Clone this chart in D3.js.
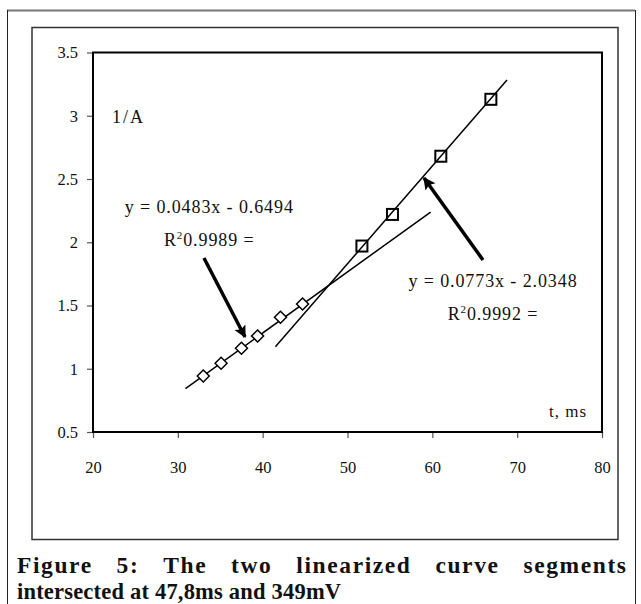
<!DOCTYPE html>
<html>
<head>
<meta charset="utf-8">
<script src="https://cdn.jsdelivr.net/npm/d3@7"></script>
<style>
  html, body { margin: 0; padding: 0; background: #fff; }
  svg { display: block; }
  text { font-family: "Liberation Serif", "DejaVu Serif", serif; fill: #111; }
</style>
</head>
<body>
<div id="chart"></div>
<script>
// measured points, first (slow) segment
const seg1T = [33.0, 35.1, 37.5, 39.4, 42.1, 44.7];
const seg1InvA = [0.943, 1.043, 1.162, 1.259, 1.407, 1.512];
// second (fast) segment
const seg2T = [51.7, 55.3, 61.0, 66.9];
const seg2InvA = [1.97, 2.22, 2.68, 3.13];

// fitted lines as printed on the chart, with their drawn extent in t
const fit1 = { slope: 0.0483, icpt: -0.6494, from: 30.9, to: 59.8 };
const fit2 = { slope: 0.0773, icpt: -2.0348, from: 41.5, to: 68.8 };

const xTicks = [20, 30, 40, 50, 60, 70, 80];
const yTicks = [0.5, 1, 1.5, 2, 2.5, 3, 3.5];

const eqLabels = [
  { eq: 'y = 0.0483x - 0.6494', r2: '0.9989 =', x: 33.7, yEq: 2.231, yR: 1.97 },
  { eq: 'y = 0.0773x - 2.0348', r2: '0.9992 =', x: 67.15, yEq: 1.646, yR: 1.385 },
];
const arrows = [
  { x1: 33.08, y1: 1.875, x2: 37.92, y2: 1.251 },
  { x1: 65.97, y1: 1.86, x2: 59.02, y2: 2.508 },
];

const captionLines = [
  'Figure 5: The two linearized curve segments',
  'intersected at 47,8ms and 349mV',
];

const width = 641, height = 604;
const plot = { left: 93, right: 602, top: 52.5, bottom: 432 };

const svg = d3.select('#chart').append('svg').attr('width', width).attr('height', height);

// outer and inner frames
svg.append('line').attr('x1', 7).attr('x2', 635).attr('y1', 10.5).attr('y2', 10.5)
  .attr('stroke', '#777').attr('stroke-width', 2);
svg.append('line').attr('x1', 7.5).attr('x2', 7.5).attr('y1', 10).attr('y2', height)
  .attr('stroke', '#222').attr('stroke-width', 1);
svg.append('line').attr('x1', 635.5).attr('x2', 635.5).attr('y1', 10).attr('y2', height)
  .attr('stroke', '#222').attr('stroke-width', 1);
svg.append('rect').attr('x', 32).attr('y', 27.5).attr('width', 586).attr('height', 512)
  .attr('fill', 'none').attr('stroke', '#333').attr('stroke-width', 1.5);

const x = d3.scaleLinear().domain([20, 80]).range([plot.left, plot.right]);
const y = d3.scaleLinear().domain([0.5, 3.5]).range([plot.bottom, plot.top]);

// axes
const xAxis = svg.append('g').attr('transform', `translate(0,${plot.bottom})`)
  .call(d3.axisBottom(x).tickValues(xTicks).tickSize(6).tickPadding(23).tickFormat(d3.format('d')));
const yAxis = svg.append('g').attr('transform', `translate(${plot.left},0)`)
  .call(d3.axisLeft(y).tickValues(yTicks).tickSize(6).tickPadding(9).tickFormat((d) => String(d)));
[xAxis, yAxis].forEach((g) => {
  g.select('.domain').remove();
  g.selectAll('.tick line').attr('stroke', '#555').attr('stroke-width', 1.2);
  g.selectAll('.tick text').style('font-family', '"Liberation Serif", serif')
    .style('font-size', '16.5px').attr('fill', '#222');
});

svg.append('rect')
  .attr('x', plot.left).attr('y', plot.top)
  .attr('width', plot.right - plot.left).attr('height', plot.bottom - plot.top)
  .attr('fill', 'none').attr('stroke', '#000').attr('stroke-width', 2);

// axis titles inside the plot
svg.append('text').attr('x', 112).attr('y', 123).style('font-size', '18px')
  .attr('letter-spacing', 2).text('1/A');
svg.append('text').attr('x', 587).attr('y', 417).attr('text-anchor', 'end')
  .style('font-size', '17px').attr('letter-spacing', 1).text('t, ms');

// trend lines
[fit1, fit2].forEach((f) => {
  svg.append('line')
    .attr('x1', x(f.from)).attr('y1', y(f.slope * f.from + f.icpt))
    .attr('x2', x(f.to)).attr('y2', y(f.slope * f.to + f.icpt))
    .attr('stroke', '#000').attr('stroke-width', 1.5);
});

// markers
const pts1 = seg1T.map((t, i) => [t, seg1InvA[i]]);
const pts2 = seg2T.map((t, i) => [t, seg2InvA[i]]);

svg.append('g').selectAll('path').data(pts1).join('path')
  .attr('d', (d) => {
    const cx = x(d[0]), cy = y(d[1]), r = 6;
    return `M${cx},${cy - r}L${cx + r},${cy}L${cx},${cy + r}L${cx - r},${cy}Z`;
  })
  .attr('fill', '#fff').attr('stroke', '#000').attr('stroke-width', 1.5);

svg.append('g').selectAll('rect').data(pts2).join('rect')
  .attr('x', (d) => x(d[0]) - 5.5).attr('y', (d) => y(d[1]) - 5.5)
  .attr('width', 11).attr('height', 11)
  .attr('fill', 'none').attr('stroke', '#000').attr('stroke-width', 2);

// regression labels
eqLabels.forEach((l) => {
  svg.append('text').attr('x', x(l.x)).attr('y', y(l.yEq)).attr('text-anchor', 'middle')
    .style('font-size', '18px').attr('letter-spacing', 0.9).text(l.eq);
  const t = svg.append('text').attr('x', x(l.x)).attr('y', y(l.yR)).attr('text-anchor', 'middle')
    .style('font-size', '18px').attr('letter-spacing', 0.9);
  t.append('tspan').text('R');
  t.append('tspan').attr('dy', -7).style('font-size', '11px').text('2');
  t.append('tspan').attr('dy', 7).text(l.r2);
});

// arrows
svg.append('defs').append('marker')
  .attr('id', 'head').attr('viewBox', '0 0 10 10').attr('refX', 9).attr('refY', 5)
  .attr('markerWidth', 5).attr('markerHeight', 3.5).attr('orient', 'auto')
  .attr('markerUnits', 'strokeWidth')
  .append('path').attr('d', 'M0,0L10,5L0,10L2,5Z').attr('fill', '#000');

svg.append('g').selectAll('line').data(arrows).join('line')
  .attr('x1', (d) => x(d.x1)).attr('y1', (d) => y(d.y1))
  .attr('x2', (d) => x(d.x2)).attr('y2', (d) => y(d.y2))
  .attr('stroke', '#000').attr('stroke-width', 3.5)
  .attr('marker-end', 'url(#head)');

// caption, first line justified with widened letters
const capX0 = 17, capX1 = 626;
captionLines.forEach((line, i) => {
  const yy = 573 + i * 25.5;
  if (i === 0) {
    const ls = 1.6;
    const words = line.split(' ');
    const g = svg.append('g');
    const nodes = words.map((w) => g.append('text').attr('y', yy)
      .style('font', 'bold 23.5px "Liberation Serif"').attr('letter-spacing', ls).text(w));
    const widths = nodes.map((n) => n.node().getComputedTextLength() - ls);
    const gap = (capX1 - capX0 - d3.sum(widths)) / (words.length - 1);
    let cx = capX0;
    nodes.forEach((n, k) => { n.attr('x', cx); cx += widths[k] + gap; });
  } else {
    svg.append('text').attr('x', capX0).attr('y', yy)
      .style('font', 'bold 22.5px "Liberation Serif"').attr('letter-spacing', 0.2).text(line);
  }
});
</script>
</body>
</html>
